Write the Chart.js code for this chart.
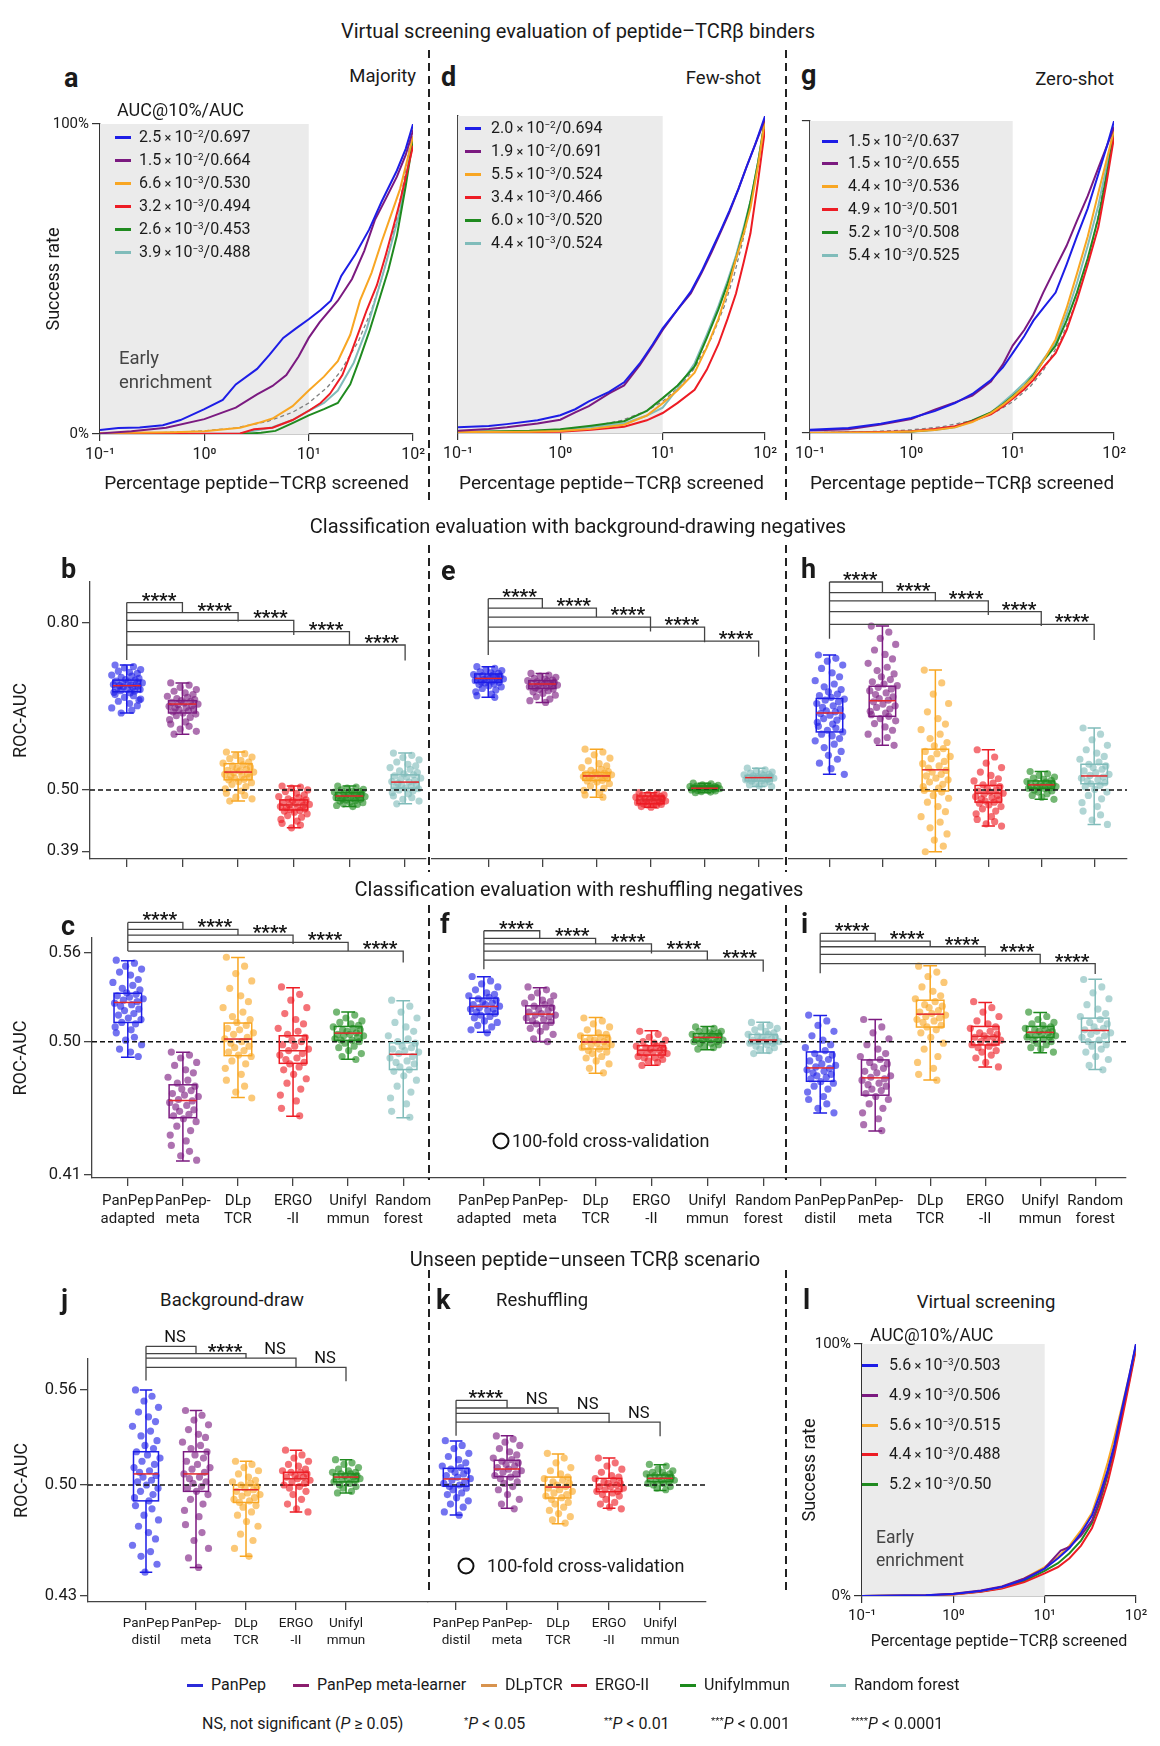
<!DOCTYPE html>
<html>
<head>
<meta charset="utf-8">
<script src="https://cdn.jsdelivr.net/npm/chart.js@4.4.1/dist/chart.umd.min.js"></script>
<style>
  body { margin: 0; background: #fff; font-family: Roboto, "Noto Sans", sans-serif; color: #1a1a1a; }
  #page { position: relative; width: 1160px; height: 1746px; overflow: hidden; }
  .txt { position: absolute; white-space: nowrap; line-height: 1; }
  .txt sup { font-size: 0.62em; vertical-align: 0.55em; line-height: 0; }
  .mark { position: absolute; height: 3px; width: 16px; }
  .vdash { position: absolute; width: 1.6px; background: repeating-linear-gradient(to bottom, #222 0 8px, transparent 8px 13px); }
  .ring { position: absolute; width: 13px; height: 13px; border: 2.5px solid #111; border-radius: 50%; transform: translate(-50%, -50%); }
</style>
</head>
<body>
<div id="page"></div>
<script>
// ---------- data ----------
const methods = ["PanPep", "PanPep meta-learner", "DLpTCR", "ERGO-II", "Unifylmmun", "Random forest"];
const xExpLabels = ["10⁻¹", "10⁰", "10¹", "10²"];

// AUC@10% / AUC legend values: [mantissa, exponent, AUC]
const aucA = [[2.5, -2, "0.697"], [1.5, -2, "0.664"], [6.6, -3, "0.530"], [3.2, -3, "0.494"], [2.6, -3, "0.453"], [3.9, -3, "0.488"]];
const aucD = [[2.0, -2, "0.694"], [1.9, -2, "0.691"], [5.5, -3, "0.524"], [3.4, -3, "0.466"], [6.0, -3, "0.520"], [4.4, -3, "0.524"]];
const aucG = [[1.5, -2, "0.637"], [1.5, -2, "0.655"], [4.4, -3, "0.536"], [4.9, -3, "0.501"], [5.2, -3, "0.508"], [5.4, -3, "0.525"]];
const aucL = [[5.6, -3, "0.503"], [4.9, -3, "0.506"], [5.6, -3, "0.515"], [4.4, -3, "0.488"], [5.2, -3, "0.50"]];

// success-rate curves: [percentage screened, success rate %]
const aBlue   = [[0.1,1.3],[0.15,1.9],[0.24,2.1],[0.4,2.8],[0.59,4.5],[1,8],[1.5,11],[2,16],[3.2,21],[4.2,25.5],[5.7,31],[7.5,34],[10,37],[13,40],[16.3,43],[20.5,51],[28,58],[38,66],[50,75],[70,85],[85,92],[100,100]];
const aPurple = [[0.1,0.2],[0.2,0.9],[0.43,2],[1,4.8],[2,8.5],[3.2,12.8],[4.5,15.5],[6.1,19],[8,25],[10,31],[12.7,36],[19,43],[26,50],[34,59],[43,69],[55,76],[70,83],[85,90],[100,98]];
const aOrange = [[0.1,0.3],[0.5,0.6],[1,0.9],[2.2,2],[3.3,3.6],[4.5,5],[7,9],[10,14],[14,18.5],[19,23.5],[25,32],[31,43],[40,52],[50,62],[62,71],[75,79],[100,96]];
const aRed    = [[0.1,0],[1,0.1],[2.2,0.2],[3,1.5],[4.5,2],[7,4.5],[10,7.5],[13,10],[16,13],[21,19],[26,27],[36,40],[45,48],[55,58],[65,67],[75,75],[100,93]];
const aGreen  = [[0.1,0],[1,0],[2.2,0],[3.5,0.4],[4.8,1],[7,3.5],[10,6],[14,8],[19,10],[25,16],[31,24.5],[38,33],[47,43],[58,53],[70,64],[85,80],[100,95]];
const aTeal   = [[0.1,0],[1,0.1],[2.2,0.2],[4.5,2.2],[7,4.5],[10,7.5],[14,10],[19,14],[27,23],[36,34],[45,45],[55,55],[65,64],[75,72],[100,96]];

const dBlue   = [[0.1,1.8],[0.2,2.2],[0.3,2.8],[0.6,4],[1,5.6],[1.4,7.5],[1.9,10],[3,13],[4.2,16],[6,22],[8,28],[10,33],[14,39],[18.8,44.6],[24,51],[30,57.7],[37,64],[44.7,70],[55,77],[66,84],[80,91],[100,100]];
const dPurple = [[0.1,0.7],[0.2,1.3],[0.3,1.8],[0.6,3],[1,4.2],[1.4,6.5],[1.9,8.5],[3,12.5],[4.2,15],[6,21.5],[8,27.5],[10,32.5],[14,39],[18.8,44],[24,50.5],[30,57],[37,63.5],[44.7,69.5],[55,77],[66,84],[80,91],[100,99]];
const dOrange = [[0.1,0.3],[0.5,0.4],[1,0.6],[2,1.3],[4.2,2.6],[7,5.5],[10,9.4],[14,13.5],[20.5,19],[27,27],[35,36],[43,45],[52,55],[62,63],[72,71],[85,84],[100,99]];
const dRed    = [[0.1,0.2],[0.5,0.3],[1,0.4],[2,1],[4.2,2],[7,4],[10,6.3],[14,9.5],[20.5,13.6],[27,20],[35,28],[43,36],[52,44],[62,54],[72,63],[85,79],[100,96]];
const dGreen  = [[0.1,0.3],[0.5,0.7],[1,1.2],[2,2.3],[4.2,3.7],[7,7],[10,11],[14,15],[20.5,21],[27,30],[35,39],[43,47],[52,55],[62,64],[72,73],[85,85],[100,99]];
const dTeal   = [[0.1,0.3],[0.5,0.5],[1,0.8],[2,1.8],[4.2,3],[7,5.5],[10,8],[14,14],[20.5,22],[27,31],[35,40],[43,48],[52,56],[62,65],[72,73],[85,85],[100,99]];

const gBlue   = [[0.1,1],[0.24,1.6],[0.5,3],[1,4.8],[1.7,7],[2.7,9.6],[4,12.5],[6.1,17],[8,21],[10,25.6],[13,31],[16,36],[20,40],[26.5,45],[34,54],[43,63],[55,72],[70,83],[85,92],[100,100]];
const gPurple = [[0.1,0.8],[0.24,1.2],[0.5,2.7],[1,4.5],[1.7,7.5],[2.7,9.8],[4,12],[6.1,16.5],[8,22],[10,28],[13,33],[16,38],[20,45],[26.5,53],[34,60],[43,68],[55,76],[70,85],[85,92],[100,98]];
const gOrange = [[0.1,0],[0.5,0.2],[1,0.5],[1.7,1],[2.7,1.8],[4,3.5],[6.1,6.4],[8,9],[10,11.5],[13,15],[16,18],[20,23],[26.5,30],[34,40],[43,51],[55,63],[70,77],[85,88],[100,97]];
const gRed    = [[0.1,0],[0.5,0.3],[1,0.6],[1.7,1.3],[2.7,2.2],[4,3.8],[6.1,6],[8,8.5],[10,11],[13,14],[16,17],[20,21],[26.5,25.6],[34,33],[43,42.6],[55,54],[70,66],[85,81],[100,95]];
const gGreen  = [[0.1,0],[0.5,0.2],[1,0.5],[1.7,1.1],[2.7,2],[4,4],[6.1,6.6],[8,9.2],[10,11.8],[13,15],[16,18.5],[20,23],[26.5,28],[34,36],[43,45],[55,56],[70,69],[85,83],[100,96]];
const gTeal   = [[0.1,0],[0.5,0.2],[1,0.4],[1.7,1],[2.7,1.8],[4,3.8],[6.1,6.5],[8,9.8],[10,12.5],[13,16],[16,19],[20,23.5],[26.5,29],[34,38],[43,48],[55,60],[70,73],[85,86],[100,97]];

const lBlue   = [[0.1,0],[0.5,0.3],[1,0.8],[2,2],[3.4,3.6],[6,6.5],[10,10.8],[14,15],[18.7,19],[25,25],[33,32],[40,40],[49,50],[58,60],[70,74],[85,88],[100,100]];
const lPurple = [[0.1,0],[0.5,0.3],[1,0.9],[2,2.2],[3.4,3.8],[6,7],[10,11],[15,18],[18.7,19.5],[25,24],[33,30],[40,38],[49,49],[58,59],[70,73],[85,87],[100,100]];
const lOrange = [[0.1,0],[0.5,0.2],[1,0.7],[2,2],[3.4,3.5],[6,7],[10,11.5],[14,15.5],[18.7,20],[25,26],[33,33],[40,42],[49,53],[58,63],[70,75],[85,88],[100,99]];
const lRed    = [[0.1,0],[0.5,0.2],[1,0.6],[2,1.7],[3.4,3],[6,5.5],[10,9],[14,11.5],[18.7,15],[25,20],[33,27],[40,35],[49,45],[58,56],[70,70],[85,85],[100,98]];
const lGreen  = [[0.1,0],[0.5,0.2],[1,0.7],[2,1.8],[3.4,3.2],[6,6],[10,10],[14,13],[18.7,17],[25,22],[33,29],[40,37],[49,48],[58,58],[70,72],[85,86],[100,99]];

// random-screening reference (dashed)
const randomLine = [[0.1,0.1],[0.3,0.3],[1,1],[2,2],[4,4],[7,7],[10,10],[15,15],[20,20],[30,30],[40,40],[50,50],[60,60],[70,70],[80,80],[90,90],[100,100]];

// box-plot panels: tick labels
const catsC = [["PanPep","adapted"],["PanPep-","meta"],["DLp","TCR"],["ERGO","-II"],["Unifyl","mmun"],["Random","forest"]];
const catsI = [["PanPep","distil"],["PanPep-","meta"],["DLp","TCR"],["ERGO","-II"],["Unifyl","mmun"],["Random","forest"]];
const catsJ = [["PanPep","distil"],["PanPep-","meta"],["DLp","TCR"],["ERGO","-II"],["Unifyl","mmun"]];
const sig5 = ["****", "****", "****", "****", "****"];
const sigJ = ["NS", "****", "NS", "NS"];
const sigK = ["****", "NS", "NS", "NS"];

// box stats per group: [lower whisker, Q1, median, Q3, upper whisker]
const statsB = [[.638,.676,.687,.697,.724],[.600,.638,.654,.660,.692],[.480,.518,.532,.547,.568],[.432,.464,.473,.482,.507],[.470,.481,.489,.495,.507],[.475,.503,.514,.527,.566]];
const statsE = [[.666,.693,.700,.708,.721],[.657,.682,.690,.696,.709],[.487,.517,.525,.531,.573],[.469,.475,.482,.489,.495],[.495,.499,.503,.507,.512],[.506,.516,.522,.526,.539]];
const statsH = [[.528,.604,.638,.664,.742],[.580,.632,.660,.686,.794],[.389,.498,.536,.573,.715],[.435,.478,.494,.508,.572],[.483,.503,.509,.516,.533],[.438,.511,.525,.546,.611]];
const statsC = [[.4895,.513,.5265,.5327,.5547],[.4195,.4487,.4603,.4709,.4928],[.4623,.4906,.5018,.5126,.5569],[.4496,.4854,.4939,.504,.5365],[.4881,.5009,.5058,.5103,.52],[.4487,.4812,.4915,.4993,.5276]];
const statsF = [[.5063,.5186,.5238,.5294,.5439],[.5002,.5126,.5186,.5242,.5365],[.4787,.4951,.4998,.5043,.5164],[.4841,.491,.4942,.4973,.5074],[.4946,.5002,.5029,.5054,.5103],[.4924,.4987,.5011,.5049,.5132]];
const statsI = [[.4518,.4733,.4823,.4931,.5177],[.4397,.4639,.4756,.4877,.515],[.4742,.5099,.5186,.528,.5513],[.483,.4978,.5036,.5103,.5265],[.4926,.5029,.5063,.5103,.5197],[.4812,.50,.5076,.5159,.5421]];
const statsJ = [[.445,.490,.507,.521,.560],[.448,.496,.507,.521,.547],[.455,.489,.497,.500,.515],[.483,.500,.504,.508,.522],[.495,.502,.505,.507,.516]];
const statsK = [[.4811,.4992,.5038,.5105,.5278],[.4853,.5053,.5101,.5156,.5311],[.4756,.4918,.4987,.505,.5196],[.4853,.4958,.50,.5042,.517],[.4966,.5021,.5042,.5063,.5128]];

// cross-validation ROC-AUC values
const ptsB = [
  [.724,.721,.719,.716,.713,.711,.709,.706,.704,.702,.700,.698,.697,.695,.694,.692,.691,.690,.689,.688,.687,.686,.685,.684,.683,.681,.680,.678,.677,.675,.674,.671,.669,.666,.663,.659,.655,.651,.647,.643,.638,.661],
  [.692,.688,.684,.680,.677,.674,.671,.668,.666,.664,.662,.660,.659,.657,.656,.654,.653,.651,.650,.648,.647,.645,.644,.642,.640,.638,.636,.633,.630,.626,.622,.618,.614,.609,.605,.600],
  [.568,.565,.562,.559,.556,.553,.550,.548,.545,.543,.541,.539,.537,.535,.534,.532,.531,.529,.528,.526,.525,.523,.521,.519,.518,.515,.513,.510,.506,.502,.498,.494,.490,.487,.484,.480],
  [.507,.505,.503,.500,.497,.494,.491,.488,.486,.484,.482,.481,.479,.477,.476,.474,.473,.472,.470,.469,.468,.466,.465,.463,.462,.460,.457,.454,.451,.447,.444,.440,.437,.432],
  [.507,.505,.503,.501,.500,.498,.497,.496,.495,.494,.493,.492,.491,.490,.489,.488,.488,.487,.486,.485,.484,.483,.482,.481,.480,.478,.477,.475,.474,.472,.470],
  [.566,.562,.558,.554,.550,.546,.543,.540,.537,.534,.531,.529,.527,.525,.523,.521,.519,.517,.515,.514,.512,.510,.509,.507,.505,.503,.502,.500,.498,.495,.493,.489,.486,.483,.480,.475]];
const ptsE = [
  [.721,.718,.716,.714,.712,.710,.709,.707,.706,.705,.704,.703,.702,.701,.700,.699,.698,.697,.696,.695,.694,.693,.692,.690,.689,.687,.685,.682,.679,.676,.672,.669,.666],
  [.709,.706,.704,.702,.700,.699,.697,.696,.695,.694,.693,.692,.691,.690,.689,.688,.687,.686,.685,.684,.683,.681,.680,.678,.676,.673,.670,.667,.663,.660,.657],
  [.573,.568,.563,.557,.552,.547,.543,.540,.537,.535,.533,.531,.530,.529,.528,.527,.526,.525,.524,.523,.522,.520,.519,.517,.516,.514,.511,.507,.503,.499,.495,.491,.487],
  [.495,.494,.492,.491,.490,.489,.488,.487,.486,.485,.484,.483,.482,.482,.481,.480,.479,.478,.477,.476,.475,.474,.473,.472,.470,.469],
  [.512,.511,.509,.508,.507,.507,.506,.506,.505,.505,.504,.504,.503,.503,.502,.502,.501,.501,.500,.500,.499,.498,.497,.496,.495],
  [.539,.536,.534,.532,.530,.529,.528,.527,.526,.525,.524,.524,.523,.522,.521,.521,.520,.519,.518,.517,.516,.515,.513,.511,.509,.507,.506]];
const ptsH = [
  [.742,.736,.731,.724,.718,.710,.703,.696,.690,.685,.680,.676,.672,.669,.666,.663,.661,.658,.655,.651,.648,.645,.642,.640,.637,.634,.632,.628,.625,.621,.618,.614,.611,.607,.604,.600,.597,.592,.588,.582,.576,.569,.562,.555,.548,.538,.528],
  [.794,.783,.772,.761,.751,.743,.735,.727,.720,.714,.708,.703,.698,.694,.690,.687,.684,.681,.678,.674,.671,.667,.664,.661,.658,.654,.651,.648,.645,.641,.638,.635,.632,.628,.624,.619,.613,.607,.600,.594,.588,.580],
  [.715,.692,.672,.655,.640,.628,.618,.608,.600,.592,.585,.579,.574,.569,.565,.560,.556,.551,.547,.543,.539,.535,.532,.528,.525,.521,.518,.514,.510,.506,.503,.499,.496,.490,.485,.478,.470,.461,.452,.442,.432,.421,.410,.399,.389],
  [.572,.559,.548,.540,.532,.526,.520,.516,.512,.509,.506,.503,.500,.498,.496,.494,.492,.490,.488,.486,.484,.482,.480,.478,.476,.473,.470,.466,.462,.457,.452,.447,.443,.439,.435],
  [.533,.529,.526,.523,.521,.519,.517,.515,.514,.513,.511,.510,.509,.508,.507,.506,.505,.504,.503,.502,.500,.498,.496,.493,.490,.487,.483],
  [.611,.600,.590,.580,.572,.566,.560,.555,.550,.546,.543,.540,.537,.534,.531,.528,.526,.523,.521,.518,.516,.513,.511,.508,.505,.501,.496,.490,.484,.477,.470,.462,.455,.446,.438]];
const ptsC = [
  [.555,.553,.551,.549,.547,.545,.542,.540,.538,.536,.535,.533,.532,.531,.530,.529,.528,.527,.526,.525,.524,.522,.521,.519,.518,.516,.515,.513,.512,.510,.508,.506,.503,.501,.498,.495,.493,.490],
  [.493,.491,.489,.486,.484,.481,.479,.476,.474,.472,.470,.468,.467,.465,.464,.463,.461,.460,.459,.457,.456,.454,.453,.451,.450,.448,.446,.443,.440,.437,.433,.430,.426,.423,.420],
  [.557,.551,.546,.541,.536,.531,.527,.523,.520,.517,.515,.513,.511,.509,.508,.506,.505,.503,.502,.500,.499,.497,.496,.494,.493,.491,.490,.487,.485,.482,.478,.474,.470,.466,.462],
  [.537,.532,.528,.523,.519,.515,.512,.509,.507,.505,.503,.501,.500,.498,.497,.495,.494,.492,.491,.489,.488,.486,.485,.483,.481,.478,.475,.472,.468,.464,.460,.455,.450],
  [.520,.518,.516,.514,.513,.512,.511,.510,.509,.508,.508,.507,.506,.505,.505,.504,.504,.503,.502,.501,.501,.500,.499,.497,.496,.494,.492,.490,.488],
  [.528,.524,.520,.516,.513,.510,.507,.504,.502,.500,.499,.497,.496,.495,.494,.493,.492,.490,.489,.487,.486,.485,.483,.481,.480,.477,.474,.470,.466,.462,.458,.453,.449]];
const ptsF = [
  [.544,.541,.539,.537,.535,.533,.532,.531,.530,.529,.528,.527,.526,.525,.525,.524,.523,.522,.522,.521,.520,.519,.518,.517,.516,.514,.513,.511,.510,.508,.506],
  [.537,.535,.533,.531,.530,.528,.527,.526,.525,.524,.523,.522,.521,.520,.519,.518,.518,.517,.516,.515,.514,.513,.512,.510,.509,.507,.505,.502,.500],
  [.516,.514,.512,.510,.508,.506,.505,.504,.503,.502,.502,.501,.500,.500,.499,.498,.498,.497,.496,.495,.494,.493,.492,.490,.489,.487,.485,.482,.479],
  [.507,.505,.503,.501,.500,.499,.498,.497,.497,.496,.495,.495,.494,.493,.493,.492,.492,.491,.490,.489,.489,.488,.487,.486,.484],
  [.510,.509,.508,.507,.507,.506,.506,.505,.505,.504,.504,.503,.503,.502,.502,.501,.501,.500,.500,.499,.499,.498,.497,.496,.495],
  [.513,.511,.510,.509,.508,.507,.506,.505,.505,.504,.503,.503,.502,.501,.501,.500,.500,.499,.499,.498,.497,.496,.495,.494,.492]];
const ptsI = [
  [.518,.514,.511,.507,.504,.501,.498,.496,.494,.492,.491,.489,.488,.487,.485,.484,.483,.482,.481,.480,.479,.478,.477,.476,.475,.473,.472,.470,.468,.466,.463,.461,.458,.455,.452],
  [.515,.510,.506,.502,.498,.495,.492,.490,.488,.486,.485,.483,.482,.480,.479,.477,.476,.475,.474,.472,.471,.470,.468,.467,.465,.463,.461,.458,.455,.452,.448,.444,.440],
  [.551,.547,.544,.540,.537,.534,.531,.529,.527,.525,.524,.523,.521,.520,.519,.518,.517,.516,.515,.514,.513,.511,.510,.508,.506,.503,.499,.495,.490,.486,.482,.478,.474],
  [.527,.523,.520,.517,.514,.512,.510,.509,.507,.506,.505,.504,.503,.503,.502,.501,.500,.499,.498,.497,.496,.494,.493,.491,.489,.486,.483],
  [.520,.517,.515,.513,.512,.511,.510,.509,.508,.508,.507,.507,.506,.505,.505,.504,.504,.503,.503,.502,.501,.500,.499,.498,.496,.495,.493],
  [.542,.537,.533,.529,.525,.522,.519,.517,.515,.513,.512,.510,.509,.508,.507,.506,.505,.504,.503,.501,.500,.498,.497,.495,.493,.490,.488,.484,.481]];
const ptsJ = [
  [.560,.556,.553,.549,.546,.543,.540,.537,.534,.531,.528,.525,.523,.521,.519,.517,.515,.513,.511,.509,.508,.506,.505,.503,.502,.500,.498,.496,.494,.492,.490,.487,.485,.481,.478,.474,.470,.466,.462,.458,.455,.450,.445],
  [.547,.544,.541,.538,.535,.532,.530,.527,.525,.523,.521,.519,.517,.515,.513,.511,.510,.508,.507,.505,.504,.502,.501,.499,.498,.496,.494,.491,.488,.484,.480,.475,.470,.465,.460,.454,.448],
  [.515,.513,.511,.509,.507,.505,.503,.502,.501,.500,.499,.498,.497,.496,.495,.494,.493,.492,.491,.490,.489,.487,.486,.483,.481,.477,.474,.469,.465,.460,.455],
  [.522,.519,.517,.515,.513,.512,.510,.509,.508,.508,.507,.506,.505,.505,.504,.503,.502,.501,.500,.499,.498,.496,.494,.491,.488,.485,.483],
  [.516,.514,.513,.511,.510,.509,.508,.508,.507,.507,.506,.506,.505,.505,.504,.504,.503,.503,.502,.501,.500,.499,.498,.496,.495]];
const ptsK = [
  [.528,.525,.523,.520,.518,.516,.514,.512,.511,.510,.509,.508,.507,.506,.505,.504,.503,.502,.501,.500,.499,.498,.497,.495,.494,.492,.490,.488,.486,.483,.481],
  [.531,.529,.527,.525,.523,.521,.519,.517,.516,.515,.514,.513,.512,.511,.510,.509,.508,.507,.506,.505,.504,.502,.501,.499,.497,.494,.491,.488,.485],
  [.520,.517,.514,.511,.509,.507,.505,.504,.503,.502,.501,.500,.499,.498,.497,.496,.495,.494,.493,.492,.491,.489,.488,.486,.484,.482,.480,.478,.476],
  [.517,.514,.512,.510,.508,.506,.505,.504,.503,.502,.501,.501,.500,.499,.499,.498,.497,.496,.496,.495,.494,.493,.491,.489,.488,.486,.485],
  [.513,.512,.510,.509,.508,.508,.507,.507,.506,.506,.505,.505,.504,.504,.503,.503,.502,.502,.501,.501,.500,.499,.498,.497]];

// ---------- style ----------
const COLORS = ["#1d1de6", "#7b1a80", "#f8a623", "#ed1c24", "#1f8a1f", "#80bcba"];
const LEGEND_COLORS = ["#2b2bd9", "#8b1e6e", "#d8934e", "#c9182f", "#1d8a1d", "#8fc3c1"];
const FONT = 'Roboto, "Noto Sans", sans-serif';
const JIT = [-0.21, 0.12, -0.04, 0.25, -0.15, 0.05, 0.19, -0.27, 0.09, -0.1, 0.22, -0.02, 0.15, -0.19, 0.03, 0.28, -0.08, 0.17, -0.24, 0.07, -0.13, 0.2, -0.06, 0.11, -0.17, 0.01, 0.24, -0.11, 0.14, -0.23, 0.06];

Chart.defaults.font.family = FONT;
Chart.defaults.color = "#1a1a1a";
Chart.defaults.animation = false;

const page = document.getElementById("page");

function txt(html, x, y, o = {}) {
  const d = document.createElement("div");
  d.className = "txt";
  d.innerHTML = html;
  d.style.left = x + "px";
  d.style.top = y + "px";
  d.style.fontSize = (o.size || 17) + "px";
  if (o.bold) d.style.fontWeight = 700;
  if (o.color) d.style.color = o.color;
  const ax = o.align === "center" ? "-50%" : o.align === "right" ? "-100%" : "0";
  d.style.transform = `translate(${ax}, -50%)`;
  page.appendChild(d);
}

function vdash(x, y0, y1) {
  const d = document.createElement("div");
  d.className = "vdash";
  d.style.left = x + "px";
  d.style.top = y0 + "px";
  d.style.height = (y1 - y0) + "px";
  page.appendChild(d);
}

function mark(color, x, y) {
  const d = document.createElement("div");
  d.className = "mark";
  d.style.background = color;
  d.style.left = x + "px";
  d.style.top = (y - 1.5) + "px";
  page.appendChild(d);
}

// canvas box sized so the chart area lands on "area"
function place(area, pad, yW, xH) {
  const d = document.createElement("div");
  d.style.position = "absolute";
  d.style.left = (area.l - pad.l - yW) + "px";
  d.style.top = (area.t - pad.t) + "px";
  d.style.width = (area.r - area.l + pad.l + pad.r + yW) + "px";
  d.style.height = (area.b - area.t + pad.t + pad.b + xH) + "px";
  const c = document.createElement("canvas");
  d.appendChild(c);
  page.appendChild(d);
  return c;
}

function alpha(hex, a) {
  const n = parseInt(hex.slice(1), 16);
  return `rgba(${n >> 16},${(n >> 8) & 255},${n & 255},${a})`;
}

// grey "early enrichment" band from 10^-1 to 10^1
const shade = {
  id: "shade",
  beforeDatasetsDraw(ch) {
    const { ctx, chartArea: a, scales: { x } } = ch;
    const x0 = x.getPixelForValue(0.1), x1 = x.getPixelForValue(10);
    ctx.save();
    ctx.fillStyle = "#ebebeb";
    ctx.fillRect(x0, a.top, x1 - x0, a.bottom - a.top);
    ctx.restore();
  }
};

function lineChart(o) {
  const canvas = place(o.area, o.pad, o.yW, o.xH);
  const datasets = o.series.map((s, i) => ({
    data: s.map(p => ({ x: p[0], y: p[1] })),
    borderColor: COLORS[i], borderWidth: 2, pointRadius: 0, tension: 0
  }));
  if (o.random) {
    datasets.push({
      data: randomLine.map(p => ({ x: p[0], y: p[1] })),
      borderColor: "#808080", borderWidth: 1.3, borderDash: [4, 3], pointRadius: 0
    });
  }
  new Chart(canvas, {
    type: "line",
    data: { datasets },
    options: {
      responsive: true, maintainAspectRatio: false, animation: false,
      layout: { padding: { left: o.pad.l, right: o.pad.r, top: o.pad.t, bottom: o.pad.b } },
      plugins: { legend: { display: false }, tooltip: { enabled: false } },
      scales: {
        x: {
          type: "logarithmic", min: 0.1, max: 100,
          afterBuildTicks: s => { s.ticks = [0.1, 1, 10, 100].map(v => ({ value: v })); },
          afterFit: s => { s.height = o.xH; },
          grid: { display: true, drawOnChartArea: false, tickLength: 7, color: "#333", lineWidth: 1.2 },
          border: { color: "#333", width: 1.3 },
          ticks: { callback: (v, i) => xExpLabels[i], font: { size: o.tickSize || 16 }, padding: 4, maxRotation: 0, color: "#1a1a1a" },
          title: { display: true, text: "Percentage peptide–TCRβ screened", font: { size: o.titleSize || 19 }, padding: { top: 4 }, color: "#1a1a1a" }
        },
        y: {
          min: 0, max: 100,
          afterBuildTicks: s => { s.ticks = [0, 100].map(v => ({ value: v })); },
          afterFit: s => { s.width = o.yW; },
          grid: { display: o.yTicks, drawOnChartArea: false, tickLength: 8, color: "#333", lineWidth: 1.2 },
          border: { color: "#333", width: 1.3 },
          ticks: { display: o.yLabels, callback: v => v + "%", font: { size: 15 }, padding: 3, color: "#1a1a1a" },
          title: { display: o.yLabels, text: "Success rate", font: { size: 18 }, padding: 0, color: "#1a1a1a" }
        }
      }
    },
    plugins: [shade]
  });
}

// boxes, whiskers, median, 0.5 reference line and significance brackets
function boxPlugin(o) {
  return {
    id: "boxes",
    afterDatasetsDraw(ch) {
      const { ctx, chartArea: a, scales: { x, y } } = ch;
      ctx.save();
      const yr = y.getPixelForValue(0.5);
      ctx.strokeStyle = "#111"; ctx.lineWidth = 1.5; ctx.setLineDash([5, 3]);
      ctx.beginPath(); ctx.moveTo(a.left, yr); ctx.lineTo(a.right, yr); ctx.stroke();
      ctx.setLineDash([]);
      o.stats.forEach((s, i) => {
        const [wl, q1, md, q3, wh] = s.map(v => y.getPixelForValue(v));
        const xc = x.getPixelForValue(i);
        const hw = x.getPixelForValue(i + 0.25) - xc, cw = hw * 0.5;
        ctx.strokeStyle = COLORS[i]; ctx.lineWidth = 1.5;
        ctx.strokeRect(xc - hw, q3, 2 * hw, q1 - q3);
        ctx.beginPath();
        ctx.moveTo(xc, q1); ctx.lineTo(xc, wl);
        ctx.moveTo(xc, q3); ctx.lineTo(xc, wh);
        ctx.moveTo(xc - cw, wl); ctx.lineTo(xc + cw, wl);
        ctx.moveTo(xc - cw, wh); ctx.lineTo(xc + cw, wh);
        ctx.stroke();
        ctx.strokeStyle = "#e3262b";
        ctx.beginPath(); ctx.moveTo(xc - hw, md); ctx.lineTo(xc + hw, md); ctx.stroke();
      });
      const br = o.br;
      const x0 = x.getPixelForValue(0);
      ctx.strokeStyle = "#444"; ctx.lineWidth = 1.3;
      ctx.beginPath();
      ctx.moveTo(x0, y.getPixelForValue(br.levels[0]));
      ctx.lineTo(x0, y.getPixelForValue(br.bottom));
      br.levels.forEach((lv, k) => {
        const xe = x.getPixelForValue(k + 1), yl = y.getPixelForValue(lv);
        ctx.moveTo(x0, yl); ctx.lineTo(xe, yl); ctx.lineTo(xe, y.getPixelForValue(br.ends[k]));
      });
      ctx.stroke();
      ctx.fillStyle = "#111"; ctx.textAlign = "center"; ctx.textBaseline = "alphabetic";
      br.levels.forEach((lv, k) => {
        const lab = o.sig[k];
        const yl = y.getPixelForValue(lv);
        const xm = x.getPixelForValue(k + 0.58);
        if (lab === "NS") { ctx.font = "16.5px " + FONT; ctx.fillText(lab, xm, yl - 4); }
        else { ctx.font = "bold 19px " + FONT; ctx.fillText(lab, xm, yl + 3); }
      });
      ctx.restore();
    }
  };
}

function boxChart(o) {
  const canvas = place(o.area, o.pad, o.yW, o.xH);
  const datasets = o.pts.map((arr, i) => ({
    data: arr.map((v, k) => ({ x: i + JIT[k % JIT.length], y: v })),
    backgroundColor: alpha(COLORS[i], 0.62), borderWidth: 0, pointRadius: 3.6
  }));
  new Chart(canvas, {
    type: "scatter",
    data: { datasets },
    options: {
      responsive: true, maintainAspectRatio: false, animation: false,
      layout: { padding: { left: o.pad.l, right: o.pad.r, top: o.pad.t, bottom: o.pad.b } },
      plugins: { legend: { display: false }, tooltip: { enabled: false } },
      scales: {
        x: {
          type: "linear", min: o.xr[0], max: o.xr[1],
          afterBuildTicks: s => { s.ticks = o.stats.map((_, i) => ({ value: i })); },
          afterFit: s => { s.height = o.xH; },
          grid: { display: true, drawOnChartArea: false, tickLength: 8, color: "#444", lineWidth: 1.3 },
          border: { color: "#444", width: 1.3 },
          ticks: { display: !!o.cats, callback: v => o.cats ? o.cats[v] : "", font: { size: o.catSize || 15 }, padding: 6, maxRotation: 0, autoSkip: false, color: "#1a1a1a" }
        },
        y: {
          display: o.yW > 0, min: o.yr[0], max: o.yr[1],
          afterBuildTicks: s => { s.ticks = o.yTicks.map(v => ({ value: v })); },
          afterFit: s => { s.width = o.yW; },
          grid: { display: true, drawOnChartArea: false, tickLength: 8, color: "#444", lineWidth: 1.3 },
          border: { color: "#444", width: 1.3 },
          ticks: { callback: v => v.toFixed(2), font: { size: 16.5 }, padding: 3, color: "#1a1a1a" },
          title: { display: true, text: "ROC-AUC", font: { size: 18 }, padding: 0, color: "#1a1a1a" }
        }
      }
    },
    plugins: [boxPlugin(o)]
  });
}

// ---------- row 1: virtual screening ----------
lineChart({ area: { l: 100, t: 120, r: 415, b: 434 }, pad: { l: 0, t: 8, r: 14, b: 2 }, yW: 56, xH: 66,
  series: [aBlue, aPurple, aOrange, aRed, aGreen, aTeal], random: true, yTicks: true, yLabels: true });
lineChart({ area: { l: 443, t: 116, r: 767, b: 433 }, pad: { l: 4, t: 8, r: 14, b: 2 }, yW: 0, xH: 67,
  series: [dBlue, dPurple, dOrange, dRed, dGreen, dTeal], random: true, yTicks: false, yLabels: false });
lineChart({ area: { l: 801, t: 121, r: 1116, b: 433 }, pad: { l: 2, t: 8, r: 14, b: 2 }, yW: 8, xH: 67,
  series: [gBlue, gPurple, gOrange, gRed, gGreen, gTeal], random: true, yTicks: true, yLabels: false });

// ---------- row 2: background-drawing negatives ----------
const yrBg = [0.376, 0.873], ticksBg = [0.39, 0.50, 0.80];
boxChart({ area: { l: 90, t: 582, r: 428, b: 859 }, pad: { l: 0, t: 40, r: 2, b: 2 }, yW: 79, xH: 14,
  xr: [-0.66, 5.375], yr: yrBg, yTicks: ticksBg, stats: statsB, pts: ptsB, sig: sig5,
  br: { levels: [.836,.818,.804,.784,.760], ends: [.818,.802,.778,.759,.732], bottom: .733 } });
boxChart({ area: { l: 428, t: 582, r: 785, b: 859 }, pad: { l: 0, t: 40, r: 2, b: 2 }, yW: 0, xH: 14,
  xr: [-1.04, 5.45], yr: yrBg, yTicks: ticksBg, stats: statsE, pts: ptsE, sig: sig5,
  br: { levels: [.843,.826,.810,.792,.767], ends: [.826,.810,.784,.765,.739], bottom: .742 } });
boxChart({ area: { l: 785, t: 582, r: 1127, b: 859 }, pad: { l: 0, t: 40, r: 6, b: 2 }, yW: 0, xH: 14,
  xr: [-0.765, 5.62], yr: yrBg, yTicks: ticksBg, stats: statsH, pts: ptsH, sig: sig5,
  br: { levels: [.873,.854,.839,.820,.797], ends: [.854,.838,.814,.794,.769], bottom: .771 } });

// ---------- row 3: reshuffling negatives ----------
const yrRs = [0.408, 0.570], ticksRs = [0.41, 0.50, 0.56];
boxChart({ area: { l: 92, t: 938, r: 428, b: 1178 }, pad: { l: 0, t: 36, r: 16, b: 2 }, yW: 81, xH: 62,
  xr: [-0.65, 5.45], yr: yrRs, yTicks: ticksRs, stats: statsC, pts: ptsC, sig: sig5, cats: catsC,
  br: { levels: [.5805,.5758,.572,.567,.5612], ends: [.5758,.572,.5659,.5607,.5534], bottom: .5612 } });
boxChart({ area: { l: 428, t: 938, r: 785, b: 1178 }, pad: { l: 20, t: 36, r: 18, b: 2 }, yW: 0, xH: 62,
  xr: [-1.0, 5.39], yr: yrRs, yTicks: ticksRs, stats: statsF, pts: ptsF, sig: sig5, cats: catsC,
  br: { levels: [.5749,.5697,.5661,.5612,.5551], ends: [.5697,.5659,.5596,.5547,.5473], bottom: .5489 } });
boxChart({ area: { l: 785, t: 938, r: 1126, b: 1178 }, pad: { l: 20, t: 36, r: 14, b: 2 }, yW: 0, xH: 62,
  xr: [-0.64, 5.56], yr: yrRs, yTicks: ticksRs, stats: statsI, pts: ptsI, sig: sig5, cats: catsI,
  br: { levels: [.5731,.5679,.5641,.559,.5527], ends: [.5679,.5637,.5574,.5522,.5457], bottom: .5462 } });

// ---------- row 4: unseen peptide / unseen TCR ----------
const yrUn = [0.4262, 0.5795], ticksUn = [0.43, 0.50, 0.56];
boxChart({ area: { l: 88, t: 1359, r: 428, b: 1602 }, pad: { l: 0, t: 42, r: 6, b: 2 }, yW: 76, xH: 62,
  xr: [-1.16, 5.64], yr: yrUn, yTicks: ticksUn, stats: statsJ, pts: ptsJ, sig: sigJ, cats: catsJ, catSize: 13.5,
  br: { levels: [.5875,.5829,.5801,.5742], ends: [.5829,.5797,.5738,.5654], bottom: .566 } });
boxChart({ area: { l: 428, t: 1359, r: 706, b: 1602 }, pad: { l: 20, t: 42, r: 10, b: 2 }, yW: 0, xH: 62,
  xr: [-0.55, 4.9], yr: yrUn, yTicks: ticksUn, stats: statsK, pts: ptsK, sig: sigK, cats: catsJ, catSize: 13.5,
  br: { levels: [.5534,.5486,.5452,.5397], ends: [.5486,.5448,.5391,.5307], bottom: .5311 } });
lineChart({ area: { l: 862, t: 1340, r: 1136, b: 1596 }, pad: { l: 0, t: 8, r: 16, b: 2 }, yW: 62, xH: 60,
  series: [lBlue, lPurple, lOrange, lRed, lGreen], random: false, yTicks: true, yLabels: true, tickSize: 15, titleSize: 16 });

// ---------- separators ----------
[428, 785].forEach(x => {
  vdash(x, 50, 505);
  vdash(x, 545, 872);
  vdash(x, 905, 1180);
  vdash(x, 1270, 1592);
});

// ---------- text ----------
txt("Virtual screening evaluation of peptide–TCRβ binders", 578, 31, { size: 20, align: "center" });
txt("Classification evaluation with background-drawing negatives", 578, 526, { size: 20, align: "center" });
txt("Classification evaluation with reshuffling negatives", 579, 889, { size: 20, align: "center" });
txt("Unseen peptide–unseen TCRβ scenario", 585, 1259, { size: 20, align: "center" });

[["a", 64, 78], ["d", 441, 77], ["g", 801, 75], ["b", 61, 569], ["e", 441, 571], ["h", 801, 569],
 ["c", 61, 926], ["f", 440, 924], ["i", 801, 924], ["j", 61, 1300], ["k", 436, 1300], ["l", 803, 1300]]
  .forEach(([s, x, y]) => txt(s, x, y, { size: 27, bold: true }));

txt("Majority", 416, 76, { size: 18.5, align: "right" });
txt("Few-shot", 761, 78, { size: 18.5, align: "right" });
txt("Zero-shot", 1114, 79, { size: 18.5, align: "right" });
txt("Background-draw", 232, 1300, { size: 18.5, align: "center" });
txt("Reshuffling", 542, 1300, { size: 18.5, align: "center" });
txt("Virtual screening", 986, 1302, { size: 18.5, align: "center" });

txt("AUC@10%/AUC", 117, 110, { size: 18 });
txt("AUC@10%/AUC", 870, 1336, { size: 17.5 });

function aucLegend(vals, mx, tx, ys, size) {
  vals.forEach((v, i) => {
    mark(COLORS[i], mx, ys[i]);
    txt(`${v[0].toFixed(1)}<span style="font-size:0.8em"> × </span>10<sup>−${-v[1]}</sup>/${v[2]}`, tx, ys[i], { size });
  });
}
aucLegend(aucA, 115, 139, [137, 160, 183, 206, 229, 252], 16);
aucLegend(aucD, 465, 491, [128, 151, 174, 197, 220, 243], 16);
aucLegend(aucG, 822, 848, [141, 163, 186, 209, 232, 255], 16);
aucLegend(aucL, 862, 889, [1365, 1395, 1425, 1454, 1484], 16);

txt("Early", 119, 358, { size: 18.5, color: "#444" });
txt("enrichment", 119, 382, { size: 18.5, color: "#444" });
txt("Early", 876, 1538, { size: 17.5, color: "#444" });
txt("enrichment", 876, 1561, { size: 17.5, color: "#444" });

[[501, 1141, 512], [466, 1566, 487]].forEach(([cx, cy, tx]) => {
  const r = document.createElement("div");
  r.className = "ring";
  r.style.left = cx + "px"; r.style.top = cy + "px";
  page.appendChild(r);
  txt("100-fold cross-validation", tx, cy, { size: 18 });
});

// bottom legend
[187, 293, 481, 571, 680, 830].forEach((x, i) => {
  mark(LEGEND_COLORS[i], x, 1685);
  txt(methods[i], x + 24, 1685, { size: 16 });
});
txt("NS, not significant (<i>P</i> ≥ 0.05)", 202, 1724, { size: 16 });
txt("<sup>*</sup><i>P</i> &lt; 0.05", 464, 1724, { size: 16 });
txt("<sup>**</sup><i>P</i> &lt; 0.01", 604, 1724, { size: 16 });
txt("<sup>***</sup><i>P</i> &lt; 0.001", 711, 1724, { size: 16 });
txt("<sup>****</sup><i>P</i> &lt; 0.0001", 851, 1724, { size: 16 });
</script>
</body>
</html>
